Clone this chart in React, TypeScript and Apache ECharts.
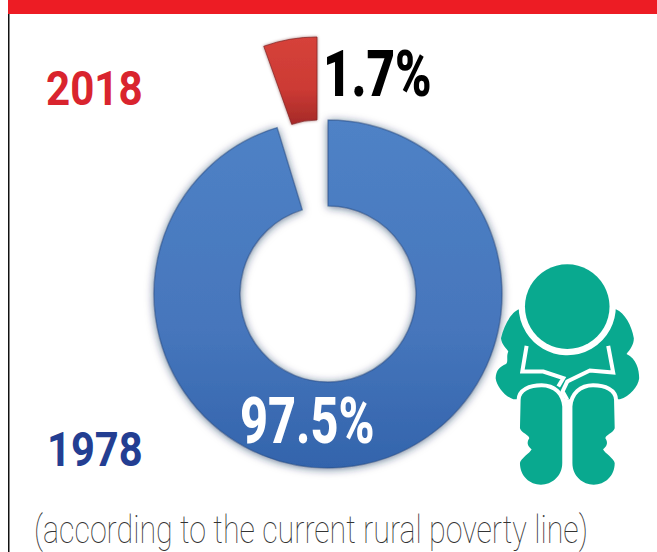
import React, { useEffect, useRef } from "react";
import * as echarts from "echarts";

const years = ["1978", "2018"];
const shares = [97.5, 1.7];
const caption = "(according to the current rural poverty line)";

const bodyPath =
  "M118 178 C95 185 72 225 63 265 C65 285 80 295 85 305 C78 320 86 335 78 342 C60 350 48 360 47 385 C50 410 75 440 100 448 L420 448 C450 440 475 410 478 385 C478 360 470 325 440 312 C450 300 462 285 462 265 C455 225 435 190 408 178 Z";
const legPath =
  "M122 450 C122 425 150 412 185 412 C220 412 245 435 247 470 L247 640 C247 680 215 705 183 705 C150 705 120 680 120 640 C122 625 150 610 155 598 C145 590 138 580 148 565 C148 555 125 550 120 535 Z";
echarts.graphic.registerShape("povertyBody", echarts.graphic.extendPath(bodyPath, {}));
echarts.graphic.registerShape("povertyLeg", echarts.graphic.extendPath(legPath, {}));

const TEAL = "#09A98F";
const s = 1 / 3;
const ox = 480;
const oy = 250;

export default function App() {
  const ref = useRef<HTMLDivElement>(null);
  useEffect(() => {
    document.body.style.margin = "0";
    const chart = echarts.init(ref.current!, undefined, { renderer: "svg" });
    const txt = (text: string, x: number, y: number, fontSize: number, fill: string, scaleX: number, fontWeight: any = 700) => ({
      type: "text", x, y, scaleX, z: 100,
      style: { text, x: 0, y: 0, fill, fontSize, fontWeight, fontFamily: "Roboto", textAlign: "left", textVerticalAlign: "middle" },
    });
    const leg = (mirror: boolean, stroke: boolean) => ({
      type: "povertyLeg",
      x: mirror ? ox + 524 * s : ox, y: oy, scaleX: mirror ? -s : s, scaleY: s, z: stroke ? 52 : 54,
      style: stroke ? { fill: TEAL, stroke: "#fff", lineWidth: 24 } : { fill: TEAL },
    });
    chart.setOption({
      animation: false,
      backgroundColor: "#fff",
      series: [
        {
          type: "pie", center: [328, 294], radius: [88, 174], startAngle: 90, endAngle: -253, silent: true,
          label: { show: false }, labelLine: { show: false },
          data: [{
            name: years[0], value: shares[0],
            itemStyle: {
              color: { type: "linear", x: 0, y: 0, x2: 0, y2: 1, colorStops: [{ offset: 0, color: "#4F82C6" }, { offset: 0.6, color: "#4676BC" }, { offset: 1, color: "#3364AC" }] },
              borderColor: "rgba(40,75,130,0.5)", borderWidth: 1.5,
              shadowBlur: 8, shadowColor: "rgba(20,40,80,0.6)", shadowOffsetY: 1,
            },
          }],
        },
        {
          type: "pie", center: [317, 195], radius: [75, 158], startAngle: 109.7, endAngle: 90, silent: true,
          label: { show: false }, labelLine: { show: false },
          data: [{
            name: years[1], value: shares[1],
            itemStyle: {
              color: { type: "linear", x: 0, y: 0, x2: 0, y2: 1, colorStops: [{ offset: 0, color: "#D6423A" }, { offset: 0.6, color: "#CC3A34" }, { offset: 1, color: "#A52A28" }] },
              borderColor: "rgba(130,35,35,0.7)", borderWidth: 1,
              shadowBlur: 3, shadowColor: "rgba(90,20,20,0.5)",
            },
          }],
        },
      ],
      graphic: [
        { type: "rect", shape: { x: 8, y: 0, width: 649, height: 14 }, style: { fill: "#ED1C24" }, z: 90 },
        { type: "rect", shape: { x: 8, y: 14, width: 1.5, height: 538 }, style: { fill: "#111" }, z: 90 },
        txt(years[1], 46, 88, 49, "#D9242E", 0.86),
        txt(`${shares[1]}%`, 323, 74, 64, "#000", 0.77, 900),
        txt(`${shares[0]}%`, 240, 421, 64, "#fff", 0.76, 800),
        txt(years[0], 47, 449, 49, "#233E92", 0.85),
        txt(caption, 34, 530, 38, "#333", 0.8, 100),
        { type: "povertyBody", x: ox, y: oy, scaleX: s, scaleY: s, z: 50, style: { fill: TEAL } },
        { type: "polyline", x: ox, y: oy, scaleX: s, scaleY: s, z: 51, shape: { points: [[140, 288], [127, 365], [190, 365], [250, 385], [235, 410]] }, style: { stroke: "#fff", lineWidth: 12, fill: "none" } },
        { type: "polyline", x: ox, y: oy, scaleX: s, scaleY: s, z: 51, shape: { points: [[385, 288], [400, 368], [330, 362], [262, 395], [248, 425], [262, 450]] }, style: { stroke: "#fff", lineWidth: 12, fill: "none" } },
        leg(false, true), leg(true, true), leg(false, false), leg(true, false),
        { type: "circle", x: ox, y: oy, scaleX: s, scaleY: s, z: 56, shape: { cx: 262, cy: 170, r: 128 }, style: { fill: TEAL, stroke: "#fff", lineWidth: 36 } },
        { type: "circle", x: ox, y: oy, scaleX: s, scaleY: s, z: 57, shape: { cx: 262, cy: 170, r: 127 }, style: { fill: TEAL } },
      ],
    });
    return () => chart.dispose();
  }, []);
  return <div ref={ref} style={{ width: 657, height: 552 }} />;
}
